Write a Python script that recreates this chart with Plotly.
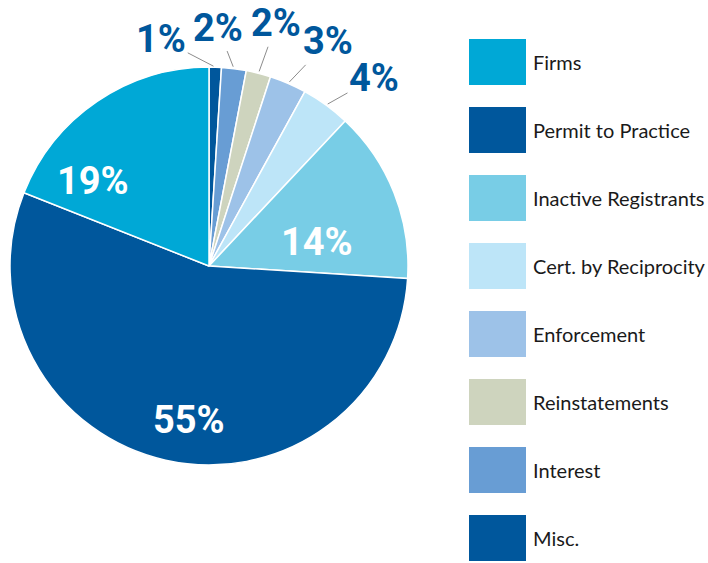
import math
import plotly.graph_objects as go

# ---- data (legend order) ----
labels = ["Firms", "Permit to Practice", "Inactive Registrants", "Cert. by Reciprocity",
          "Enforcement", "Reinstatements", "Interest", "Misc."]
values = [19, 55, 14, 4, 3, 2, 2, 1]
colors = ["#00A8D6", "#00579C", "#78CDE6", "#BDE5F8", "#9DC2E8", "#CED4BE", "#689DD4", "#00579C"]

W, H = 708, 563
# pie geometry (pixels)
px0, px1, py0, py1 = 10, 408, 67, 465
cx, cy = (px0 + px1) / 2, (py0 + py1) / 2
R = (px1 - px0) / 2

# slices drawn clockwise from 12 o'clock, starting with the last legend entry
p_labels = labels[::-1]
p_values = values[::-1]
p_colors = colors[::-1]

fig = go.Figure(go.Pie(
    labels=p_labels, values=p_values, sort=False, direction="clockwise", rotation=0,
    marker=dict(colors=p_colors, line=dict(color="white", width=1.5)),
    textinfo="none", hoverinfo="label+percent", showlegend=False,
    domain=dict(x=[px0 / W, px1 / W], y=[1 - py1 / H, 1 - py0 / H]),
))

total = sum(p_values)
label_font = dict(family="Roboto", size=38, weight="bold")
# label layout tweaks: inside labels (radius fraction, angle tweak deg); outside labels (pixel offsets)
inside_pos = {"Firms": (0.72, -19.6), "Permit to Practice": (0.78, -5.2),
              "Inactive Registrants": (0.556, 9.1)}
outside_off = {"Misc.": (-54, -28), "Interest": (-16, -41), "Reinstatements": (18, -50),
               "Enforcement": (40, -42), "Cert. by Reciprocity": (48, -27)}

annotations = []
cum = 0
for lab, v in zip(p_labels, p_values):
    mid = (cum + v / 2) / total * 360
    cum += v
    pct = f"{round(v / total * 100)}%"
    if lab in inside_pos:
        fr, tw = inside_pos[lab]
        a = math.radians(mid + tw)
        x = cx + R * fr * math.sin(a)
        y = cy - R * fr * math.cos(a)
        annotations.append(dict(x=x / W, y=1 - y / H, xref="paper", yref="paper",
                                xanchor="center", yanchor="middle",
                                text=pct, showarrow=False,
                                font=dict(label_font, color="white")))
    else:
        a = math.radians(mid)
        x = cx + R * math.sin(a)
        y = cy - R * math.cos(a)
        ax, ay = outside_off[lab]
        annotations.append(dict(x=x / W, y=1 - y / H, xref="paper", yref="paper",
                                xanchor="center", yanchor="middle",
                                text=pct, showarrow=True, arrowhead=0, arrowwidth=1,
                                arrowcolor="#8C8C8C", standoff=2, ax=ax, ay=ay,
                                font=dict(label_font, color="#00579C")))

# custom legend
shapes = []
lx0, lx1, sw_h, top0, pitch = 469, 526, 46, 39, 68
for i, (lab, col) in enumerate(zip(labels, colors)):
    t = top0 + pitch * i
    shapes.append(dict(type="rect", xref="paper", yref="paper",
                       x0=lx0 / W, x1=lx1 / W, y0=1 - (t + sw_h) / H, y1=1 - t / H,
                       fillcolor=col, line=dict(width=0)))
    annotations.append(dict(x=531 / W, y=1 - (t + sw_h / 2) / H, xref="paper", yref="paper",
                            xanchor="left", yanchor="middle", text=lab, showarrow=False,
                            font=dict(family="Lato", size=20, color="#1A1A1A")))

fig.update_layout(width=W, height=H, margin=dict(l=0, r=0, t=0, b=0),
                  paper_bgcolor="white", plot_bgcolor="white",
                  annotations=annotations, shapes=shapes)
fig.write_html("out.html")
